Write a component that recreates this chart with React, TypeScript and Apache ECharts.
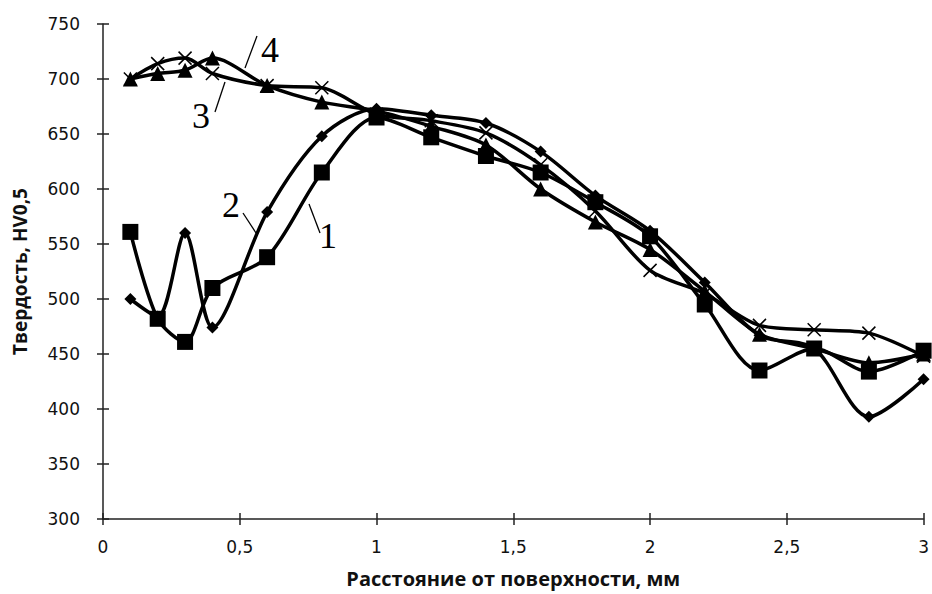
import React, { useEffect, useRef } from "react";
import * as echarts from "echarts";

// Distance from the surface, mm
const depth = [0.1, 0.2, 0.3, 0.4, 0.6, 0.8, 1.0, 1.2, 1.4, 1.6, 1.8, 2.0, 2.2, 2.4, 2.6, 2.8, 3.0];

// Hardness HV0,5 for the four specimens
const hv1 = [561, 482, 461, 510, 538, 615, 665, 647, 630, 615, 588, 557, 495, 435, 455, 434, 453];
const hv2 = [500, 484, 560, 474, 579, 648, 673, 667, 660, 634, 594, 562, 515, 467, 455, 393, 427];
const hv3 = [700, 714, 719, 705, 694, 692, 668, 662, 651, 622, 580, 526, 505, 476, 472, 469, 448];
const hv4 = [700, 705, 708, 719, 694, 679, 671, 657, 640, 600, 570, 545, 507, 468, 455, 442, 450];

const yTicks = { min: 300, max: 750, step: 50 };
const xTicks = { min: 0, max: 3, step: 0.5 };

const crossPath = "path://M0,0L10,10M10,0L0,10";

const pair = (ys: number[]) => depth.map((x, i) => [x, ys[i]]);

export default function App() {
  const ref = useRef<HTMLDivElement>(null);

  useEffect(() => {
    if (!ref.current) return;
    const chart = echarts.init(ref.current, null, { renderer: "svg" });

    const lineBase = {
      type: "line" as const,
      smooth: 0.3,
      lineStyle: { color: "#000", width: 3.5 },
      itemStyle: { color: "#000" },
      z: 3,
    };

    const labelFont = {
      fontFamily: "DejaVu Sans",
      fontSize: 17,
      color: "#111",
    };

    const nameFont = { fontFamily: "Open Sans", fontWeight: "bold", color: "#111" };

    chart.setOption({
      animation: false,
      backgroundColor: "#fff",
      grid: { left: 103, right: 5, top: 24, bottom: 75 },
      xAxis: [
        {
          type: "value",
          min: xTicks.min,
          max: xTicks.max,
          interval: xTicks.step,
          axisLine: { lineStyle: { color: "#222", width: 1.5 } },
          axisTick: { length: 6, lineStyle: { color: "#222", width: 1.5 } },
          axisLabel: {
            ...labelFont,
            margin: 19,
            formatter: (v: number) => String(v).replace(".", ","),
          },
          splitLine: { show: false },
          name: "Расстояние от поверхности, мм",
          nameLocation: "middle",
          nameGap: 49,
          nameTextStyle: { ...nameFont, fontSize: 20 },
        },
        {
          type: "value",
          position: "bottom",
          min: xTicks.min,
          max: xTicks.max,
          interval: xTicks.step,
          axisLine: { show: false },
          axisTick: { inside: true, length: 6, lineStyle: { color: "#222", width: 1.5 } },
          axisLabel: { show: false },
          splitLine: { show: false },
        },
      ],
      yAxis: [
        {
          type: "value",
          min: yTicks.min,
          max: yTicks.max,
          interval: yTicks.step,
          axisLine: { show: true, lineStyle: { color: "#222", width: 1.5 } },
          axisTick: { show: true, length: 6, lineStyle: { color: "#222", width: 1.5 } },
          axisLabel: { ...labelFont, margin: 23 },
          splitLine: { show: false },
          name: "Твердость, HV0,5",
          nameLocation: "middle",
          nameGap: 74,
          nameTextStyle: { ...nameFont, fontSize: 19 },
        },
        {
          type: "value",
          position: "left",
          min: yTicks.min,
          max: yTicks.max,
          interval: yTicks.step,
          axisLine: { show: false },
          axisTick: { show: true, inside: true, length: 6, lineStyle: { color: "#222", width: 1.5 } },
          axisLabel: { show: false },
          splitLine: { show: false },
        },
      ],
      series: [
        { ...lineBase, name: "1", data: pair(hv1), symbol: "rect", symbolSize: 16 },
        { ...lineBase, name: "2", data: pair(hv2), symbol: "diamond", symbolSize: 12 },
        {
          ...lineBase,
          name: "3",
          data: pair(hv3),
          symbol: crossPath,
          symbolSize: 13,
          itemStyle: { color: "none", borderColor: "#000", borderWidth: 1.5 },
        },
        { ...lineBase, name: "4", data: pair(hv4), symbol: "triangle", symbolSize: 15 },
      ],
      graphic: [
        { type: "line", shape: { x1: 245, y1: 68, x2: 257, y2: 36 }, style: { stroke: "#000", lineWidth: 1.3 } },
        { type: "text", x: 270, y: 50, style: { text: "4", font: "36px 'Liberation Serif'", fill: "#000", textAlign: "center", textVerticalAlign: "middle" } },
        { type: "line", shape: { x1: 215, y1: 112, x2: 225, y2: 82 }, style: { stroke: "#000", lineWidth: 1.3 } },
        { type: "text", x: 201, y: 116, style: { text: "3", font: "36px 'Liberation Serif'", fill: "#000", textAlign: "center", textVerticalAlign: "middle" } },
        { type: "line", shape: { x1: 243, y1: 213, x2: 256, y2: 233 }, style: { stroke: "#000", lineWidth: 1.3 } },
        { type: "text", x: 231, y: 205, style: { text: "2", font: "36px 'Liberation Serif'", fill: "#000", textAlign: "center", textVerticalAlign: "middle" } },
        { type: "line", shape: { x1: 309, y1: 204, x2: 320, y2: 233 }, style: { stroke: "#000", lineWidth: 1.3 } },
        { type: "text", x: 328, y: 236, style: { text: "1", font: "36px 'Liberation Serif'", fill: "#000", textAlign: "center", textVerticalAlign: "middle" } },
      ],
    });

    return () => chart.dispose();
  }, []);

  return <div ref={ref} style={{ width: 932, height: 594, position: "absolute", left: 0, top: 0 }} />;
}
